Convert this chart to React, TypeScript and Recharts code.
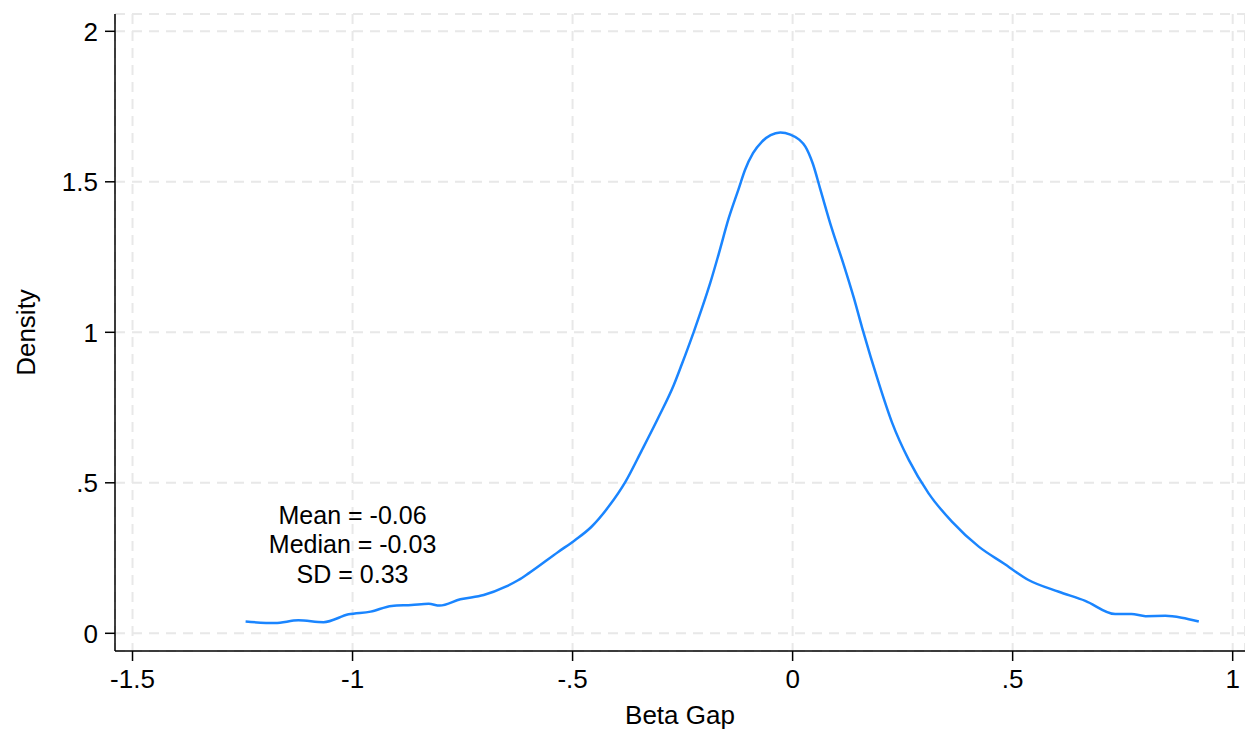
import React from 'react';
import { LineChart, Line, XAxis, YAxis, CartesianGrid, ReferenceDot } from 'recharts';

const betaGap = [
  -1.243, -1.176, -1.123, -1.066, -1.009, -0.959, -0.911, -0.866, -0.827, -0.802,
  -0.755, -0.702, -0.652, -0.623, -0.6, -0.532, -0.494, -0.457, -0.418, -0.38,
  -0.343, -0.305, -0.27, -0.252, -0.225, -0.206, -0.187, -0.168, -0.145, -0.123,
  -0.108, -0.09, -0.07, -0.05, -0.028, -0.005, 0.015, 0.029, 0.046, 0.063,
  0.089, 0.116, 0.139, 0.158, 0.177, 0.195, 0.226, 0.264, 0.309, 0.362,
  0.423, 0.48, 0.536, 0.605, 0.665, 0.733, 0.77, 0.802, 0.847, 0.884,
  0.923,
];
const density = [
  0.039, 0.034, 0.043, 0.037, 0.063, 0.072, 0.091, 0.094, 0.098, 0.092,
  0.113, 0.127, 0.155, 0.177, 0.199, 0.271, 0.31, 0.354, 0.421, 0.503,
  0.607, 0.717, 0.825, 0.893, 1.0, 1.08, 1.165, 1.26, 1.38, 1.475,
  1.54, 1.595, 1.633, 1.655, 1.664, 1.657, 1.64, 1.617, 1.56, 1.475,
  1.345, 1.225, 1.115, 1.015, 0.92, 0.835, 0.7, 0.576, 0.465, 0.371,
  0.288, 0.232, 0.177, 0.138, 0.108, 0.064, 0.064, 0.057, 0.058, 0.052,
  0.039,
];

const xTicks = [-1.5, -1, -0.5, 0, 0.5, 1];
const yTicks = [0, 0.5, 1, 1.5, 2];
const xDomain: [number, number] = [-1.5398, 1.028];
const yDomain: [number, number] = [-0.0588, 2.0575];

const annotationLines = ['Mean = -0.06', 'Median = -0.03', 'SD = 0.33'];
const annotationX = -1.0;
const annotationY = [0.392, 0.295, 0.198];

const data = betaGap.map((x, i) => ({ x, d: density[i] }));

const fmt = (v: number) => String(v).replace(/^(-?)0\./, '$1.');

const FONT = '"Liberation Sans", Arial, Helvetica, sans-serif';

export default function App() {
  return (
    <div style={{ position: 'absolute', left: 0, top: 0, width: 1245, height: 729, background: '#fff', fontFamily: FONT }}>
      <LineChart width={1245} height={729} data={data} margin={{ top: 14, right: 0, bottom: 0, left: 0 }}>
        <CartesianGrid stroke="#e8e8e8" strokeWidth={2} strokeDasharray="10 7" />
        <XAxis
          dataKey="x"
          type="number"
          domain={xDomain}
          ticks={xTicks}
          allowDataOverflow
          tickFormatter={fmt}
          height={78}
          tickSize={10}
          tickMargin={9}
          axisLine={{ stroke: '#000', strokeWidth: 1.5 }}
          tickLine={{ stroke: '#000', strokeWidth: 1.5 }}
          tick={{ fill: '#000', fontSize: 26, fontFamily: FONT }}
          label={{ value: 'Beta Gap', position: 'center', dy: 25, fill: '#000', fontSize: 26, fontFamily: FONT }}
        />
        <YAxis
          type="number"
          domain={yDomain}
          ticks={yTicks}
          allowDataOverflow
          tickFormatter={fmt}
          width={115}
          tickSize={10}
          tickMargin={7}
          axisLine={{ stroke: '#000', strokeWidth: 1.5 }}
          tickLine={{ stroke: '#000', strokeWidth: 1.5 }}
          tick={{ fill: '#000', fontSize: 26, fontFamily: FONT }}
          label={{ value: 'Density', angle: -90, position: 'center', dx: -32, fill: '#000', fontSize: 26, fontFamily: FONT }}
        />
        <Line
          type="monotone"
          dataKey="d"
          stroke="#1a85ff"
          strokeWidth={2.5}
          dot={false}
          isAnimationActive={false}
        />
        {annotationLines.map((t, i) => (
          <ReferenceDot
            key={t}
            x={annotationX}
            y={annotationY[i]}
            r={0}
            fill="none"
            stroke="none"
            label={{ value: t, position: 'center', fill: '#000', fontSize: 25, fontFamily: FONT }}
          />
        ))}
      </LineChart>
    </div>
  );
}
